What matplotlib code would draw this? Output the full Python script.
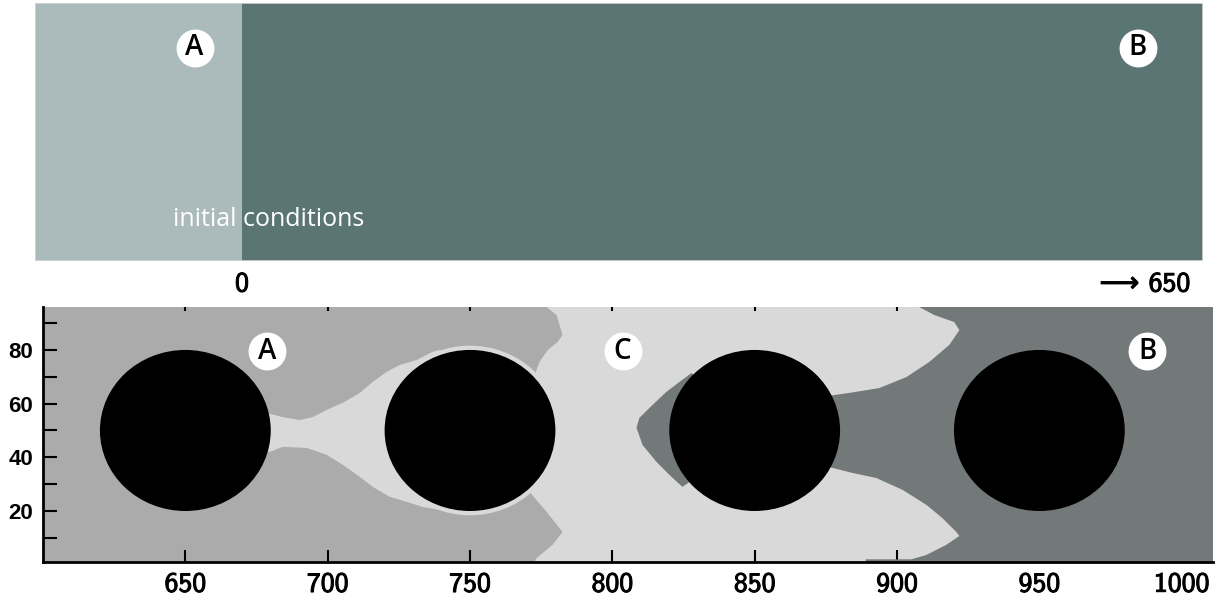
import matplotlib.pyplot as plt
import matplotlib.patheffects as pe
from matplotlib.patches import Circle, Polygon

# COLOURS
strip_colors = ['#abbbbb', '#5b7575']
col_a = '#ababab'
col_b = '#737878'
col_c = '#d9d9d9'

# TOP STRIP (initial conditions -> run up to 650)
strip_edges = [-140, 0, 650]
strip_tick = 0
strip_end = 650
strip_letters = ['A', 'B']
strip_letter_x = [-32, 606]

# BOTTOM PANEL
x_lim = [600, 1011]
y_lim = [1, 96]
x_ticks = [650, 700, 750, 800, 850, 900, 950, 1000]
y_ticks = [20, 40, 60, 80]
y_minor = [10, 30, 50, 70, 90]

cyl_x = [650, 750, 850, 950]
cyl_y = [50, 50, 50, 50]
cyl_r = 30
halo_r = 31.6

letters = ['A', 'C', 'B']
letter_x = [678.6, 803.6, 987.9]
letter_y = [79.6, 79.6, 79.6]

# region A outline (passes through cylinders 1 and 2)
a_x = [600, 600, 776.9, 780.4, 782.5, 780.8, 777.3, 774.4, 772.7, 750,
       739.3, 736.9, 731.3, 725.3, 720.7, 715.8, 711.3, 705.3, 699.7, 694.8,
       690.2, 684.2, 679.7, 650,
       679.7, 684.2, 692.7, 699.7, 705.3, 711.3, 715.8, 721.8, 727.8, 733.4,
       739.3, 750, 770.9, 776.9, 782.5, 779.0, 773.4, 772.7]
a_y = [1, 96, 96, 93, 85.6, 83, 80, 75.5, 70.7, 50,
       80, 79.3, 76.3, 74.4, 71.8, 68.1, 64.0, 60.3, 57.7, 55.0,
       53.9, 55.0, 56.2, 50,
       42.0, 43.9, 43.5, 40.9, 37.2, 32.7, 29.0, 25.3, 23.4, 21.5,
       20.4, 50, 27.1, 19.7, 12.2, 7.4, 2.5, 1]

# region B crescent in front of cylinder 3
bc_x = [827.8, 823.6, 819.0, 814.1, 809.5, 808.5, 810.6, 815.5, 820.1, 824.6, 840, 840]
bc_y = [71.4, 68.1, 64.4, 59.5, 54.7, 51.0, 44.6, 38.3, 33.4, 29.0, 40, 60]

# region B behind cylinder 3
br_x = [907.8, 913.1, 920.1, 921.9, 918.4, 911.3, 903.3, 893.8, 883.3, 870, 850, 870,
        884.3, 892.7, 901.9, 910.3, 915.9, 920.8, 921.9, 917.3, 910.3, 905.0, 889, 889,
        1011, 1011]
br_y = [96, 93.0, 90.4, 87.4, 81.9, 75.5, 69.9, 65.8, 64.0, 62, 50, 38,
        34.2, 32.3, 27.9, 22.3, 17.4, 12.2, 10.7, 7.4, 3.6, 2.0, 2.0, 1,
        1, 96]

thick = [pe.withStroke(linewidth=0.7, foreground='black')]


def badge(ax, x, y, letter):
    ax.scatter([x], [y], s=690, color='white', zorder=5, clip_on=False)
    ax.text(x, y, letter, ha='center', va='center', fontsize=20,
            family='Open Sans', fontweight='semibold', color='black', zorder=6)


def plotting():
    fig = plt.figure(figsize=(12.15, 6.02), dpi=100)

    # TOP STRIP
    ax_t = fig.add_axes([35 / 1215, 341 / 602, 1168 / 1215, 258 / 602])
    for i in range(len(strip_colors)):
        ax_t.axvspan(strip_edges[i], strip_edges[i + 1], color=strip_colors[i], lw=0)
    ax_t.add_patch(plt.Rectangle((strip_edges[0], 0), strip_edges[-1] - strip_edges[0], 1,
                                 fill=False, ec='#d6d6d6', lw=1.2, zorder=3))
    ax_t.set_xlim(strip_edges[0], strip_edges[-1])
    ax_t.set_ylim(0, 1)
    ax_t.axis('off')
    for lx, lt in zip(strip_letter_x, strip_letters):
        badge(ax_t, lx, 0.826, lt)
    ax_t.text(18.3, 0.159, 'initial conditions', ha='center', va='center',
              fontsize=18, family='Open Sans', color='white')
    ax_t.text(strip_tick, -0.089, str(strip_tick), ha='center', va='center',
              fontsize=20, family='cmss10', path_effects=thick)
    ax_t.text(0.989, -0.089, '\u27f6 ' + str(strip_end), transform=ax_t.transAxes,
              ha='right', va='center', fontsize=20, family=['cmss10', 'DejaVu Sans'],
              path_effects=thick)

    # BOTTOM PANEL
    ax = fig.add_axes([43 / 1215, 40 / 602, 1170 / 1215, 255 / 602])
    ax.set_facecolor(col_c)
    ax.add_patch(Polygon(list(zip(a_x, a_y)), closed=True, fc=col_a, ec='none', zorder=1))
    ax.add_patch(Circle((cyl_x[1], cyl_y[1]), halo_r, fc=col_c, ec='none', zorder=2))
    ax.add_patch(Polygon(list(zip(bc_x, bc_y)), closed=True, fc=col_b, ec='none', zorder=2))
    ax.add_patch(Polygon(list(zip(br_x, br_y)), closed=True, fc=col_b, ec='none', zorder=2))
    for cx, cy in zip(cyl_x, cyl_y):
        ax.add_patch(Circle((cx, cy), cyl_r, fc='black', ec='none', zorder=3))
    for lx, ly, lt in zip(letter_x, letter_y, letters):
        badge(ax, lx, ly, lt)

    ax.set_xlim(x_lim)
    ax.set_ylim(y_lim)
    ax.set_xticks(x_ticks, [str(v) for v in x_ticks], fontsize=20, family='cmss10',
                  path_effects=thick)
    ax.set_yticks(y_ticks, [str(v) for v in y_ticks], fontsize=16,
                  family='Liberation Sans', fontweight='bold')
    ax.set_yticks(y_minor, minor=True)
    ax.tick_params(axis='x', direction='in', length=9, width=1.5, top=True, pad=7)
    ax.tick_params(axis='y', which='both', direction='in', length=10, width=1.5, pad=7)
    for t in ax.xaxis.get_major_ticks():
        t.tick2line.set_markersize(3)
    ax.spines['top'].set_visible(False)
    ax.spines['right'].set_visible(False)
    ax.spines['left'].set_linewidth(2)
    ax.spines['bottom'].set_linewidth(2)

    fig.savefig('out.png', dpi=100)


if __name__ == "__main__":
    plotting()
